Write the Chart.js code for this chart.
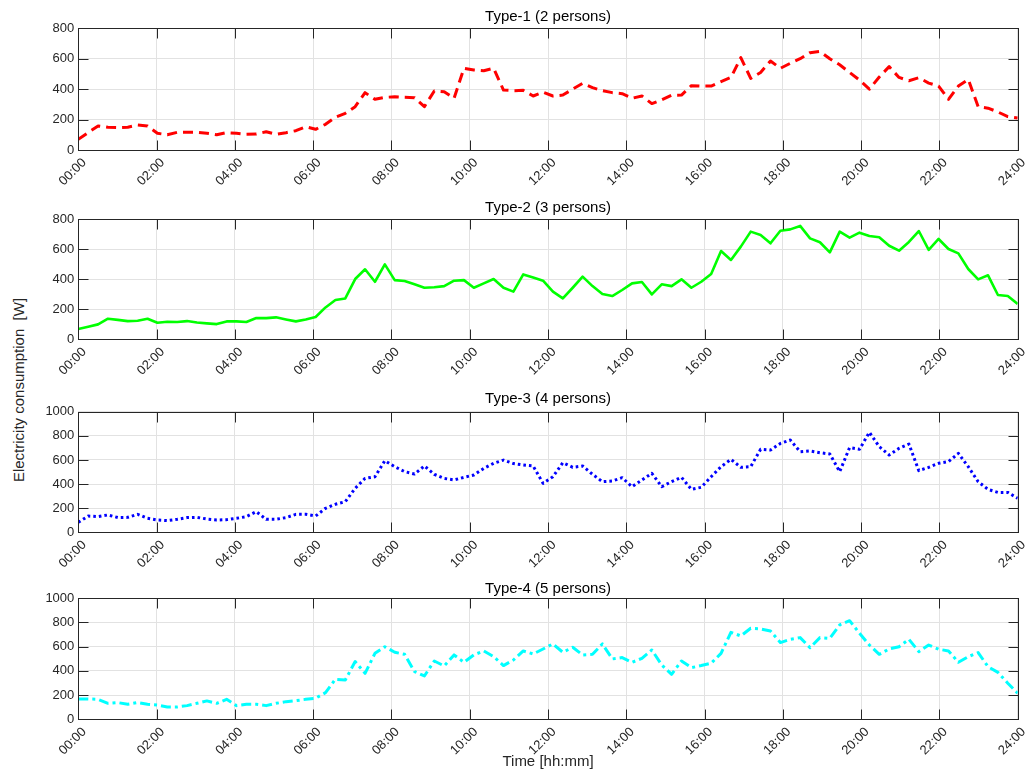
<!DOCTYPE html>
<html>
<head>
<meta charset="utf-8">
<title>Household electricity consumption by type</title>
<script src="https://cdn.jsdelivr.net/npm/chart.js@4.4.1/dist/chart.umd.min.js"></script>
<style>
  html, body { margin: 0; padding: 0; background: #fff; }
  #fig { position: relative; width: 1029px; height: 772px; overflow: hidden;
         font-family: "Liberation Sans", Arial, sans-serif; }
  #fig canvas { position: absolute; left: 0; }
  #ylabel { position: absolute; left: 18px; top: 390px; white-space: pre;
            transform: translate(-50%, -50%) rotate(-90deg);
            font-size: 15px; color: #262626; }
</style>
</head>
<body>
<div id="fig">
  <div id="ylabel">Electricity consumption  [W]</div>
</div>
<script>
// Tick labels of the shared time axis (every two hours)
const timeTicks = ['00:00', '02:00', '04:00', '06:00', '08:00', '10:00', '12:00',
                   '14:00', '16:00', '18:00', '20:00', '22:00', '24:00'];

// Panel titles
const panelTitles = ['Type-1 (2 persons)', 'Type-2 (3 persons)',
                     'Type-3 (4 persons)', 'Type-4 (5 persons)'];

// Upper limit of each panel's W axis
const axisMax = [800, 800, 1000, 1000];

// Average load profiles [W], 96 samples spread evenly over 00:00 - 24:00
const type1 = [70, 115, 158, 149, 147, 150, 164, 158, 110, 100,
               116, 116, 116, 110, 100, 114, 110, 103, 105, 120,
               103, 114, 127, 153, 136, 169, 215, 241, 285, 377,
               333, 346, 350, 346, 344, 285, 388, 383, 340, 537,
               526, 521, 537, 394, 390, 392, 355, 380, 355, 361,
               400, 438, 410, 390, 377, 370, 340, 355, 305, 330,
               360, 361, 423, 420, 420, 450, 477, 607, 471, 510,
               585, 537, 570, 600, 640, 648, 600, 560, 510, 460,
               400, 480, 548, 477, 455, 475, 440, 420, 333, 420,
               464, 285, 275, 250, 220, 210];

const type2 = [69, 84, 100, 138, 130, 122, 124, 138, 111, 118,
               116, 122, 113, 107, 102, 120, 120, 116, 142, 142,
               147, 133, 120, 133, 149, 213, 262, 273, 402, 467,
               384, 500, 395, 389, 367, 344, 347, 355, 391, 395,
               344, 373, 402, 344, 318, 433, 413, 391, 318, 273,
               344, 418, 355, 302, 289, 329, 373, 382, 300, 367,
               355, 400, 344, 384, 436, 589, 529, 618, 718, 696,
               640, 724, 733, 756, 673, 647, 580, 718, 678, 711,
               689, 680, 624, 591, 649, 722, 596, 669, 602, 573,
               469, 400, 427, 296, 289, 236];

const type3 = [83, 135, 130, 144, 122, 124, 149, 116, 102, 97,
               108, 122, 124, 110, 102, 105, 116, 130, 171, 108,
               108, 122, 149, 149, 135, 199, 232, 254, 365, 447,
               461, 594, 544, 503, 483, 550, 481, 447, 434, 456,
               475, 530, 572, 599, 570, 558, 550, 406, 461, 577,
               539, 550, 481, 420, 425, 453, 378, 434, 489, 378,
               420, 456, 356, 373, 461, 544, 605, 539, 544, 688,
               682, 737, 765, 668, 674, 660, 649, 503, 702, 688,
               829, 710, 641, 696, 732, 511, 539, 572, 586, 655,
               544, 420, 356, 331, 331, 282];

const type4 = [168, 168, 165, 132, 138, 124, 138, 124, 118, 102,
               102, 113, 132, 152, 132, 165, 113, 124, 124, 113,
               132, 146, 154, 165, 174, 220, 331, 325, 477, 380,
               545, 600, 554, 537, 394, 358, 482, 441, 532, 471,
               532, 565, 518, 444, 490, 565, 540, 581, 623, 554,
               595, 532, 537, 623, 499, 510, 471, 504, 573, 449,
               372, 482, 427, 444, 463, 545, 719, 689, 752, 747,
               730, 634, 661, 675, 592, 675, 669, 780, 815, 711,
               614, 537, 581, 600, 661, 559, 614, 579, 565, 471,
               518, 551, 435, 388, 298, 215];

const profiles = [type1, type2, type3, type4];

// Line styles of the four profiles
const styles = [
  { color: '#ff0000', width: 3,   dash: [10, 6] },
  { color: '#00ff00', width: 2.6, dash: [] },
  { color: '#0000ff', width: 3,   dash: [2.6, 3] },
  { color: '#00ffff', width: 3,   dash: [10, 4, 3, 4] }
];

// Page geometry of each axes box (top/bottom of plot area, title centre line)
const frames = [
  { plotTop: 28.3,  plotBottom: 150.0, titleY: 16.8 },
  { plotTop: 219.3, plotBottom: 339.4, titleY: 207.5 },
  { plotTop: 411.7, plotBottom: 532.3, titleY: 398.5 },
  { plotTop: 598.3, plotBottom: 719.3, titleY: 588.5 }
];

const FONT = '"Liberation Sans", Arial, sans-serif';
const INK = '#262626';
const GRID = '#e2e2e2';
const FIG_W = 1029, FIG_H = 772;
const PLOT_L = 78.3, PLOT_R = 1017.7;
const TICK_LEN = 10;

// Box around the plot area with inward tick marks on all four sides
const axesBox = {
  id: 'axesBox',
  afterDatasetsDraw(chart) {
    const { ctx, chartArea: a, scales: { x, y } } = chart;
    const px = v => Math.round(v) + 0.5;
    const L = px(a.left), R = px(a.right), T = px(a.top), B = px(a.bottom);
    ctx.save();
    ctx.strokeStyle = INK;
    ctx.lineWidth = 1;
    ctx.beginPath();
    x.ticks.forEach(t => {
      const xp = px(x.getPixelForValue(t.value));
      ctx.moveTo(xp, B); ctx.lineTo(xp, B - TICK_LEN);
      ctx.moveTo(xp, T); ctx.lineTo(xp, T + TICK_LEN);
    });
    y.ticks.forEach(t => {
      const yp = px(y.getPixelForValue(t.value));
      ctx.moveTo(L, yp); ctx.lineTo(L + TICK_LEN, yp);
      ctx.moveTo(R, yp); ctx.lineTo(R - TICK_LEN, yp);
    });
    ctx.stroke();
    ctx.strokeRect(L, T, R - L, B - T);
    ctx.restore();
  }
};

const fig = document.getElementById('fig');
const sampleStep = 24 / (type1.length - 1);

frames.forEach((f, k) => {
  const isLast = k === frames.length - 1;
  const canvasTop = Math.floor(f.plotTop) - 30;
  const canvasBottom = isLast ? FIG_H : Math.ceil(f.plotBottom) + 44;
  const cv = document.createElement('canvas');
  cv.width = FIG_W;
  cv.height = canvasBottom - canvasTop;
  cv.style.top = canvasTop + 'px';
  fig.appendChild(cv);

  const titleSize = 15, titleLH = titleSize * 1.2;
  const titlePadTop = (f.titleY - canvasTop) - titleLH / 2;
  const titlePadBottom = (f.plotTop - canvasTop) - titlePadTop - titleLH;
  const xAxisH = canvasBottom - f.plotBottom;
  const st = styles[k];

  new Chart(cv, {
    type: 'line',
    data: {
      datasets: [{
        data: profiles[k].map((v, i) => ({ x: i * sampleStep, y: v })),
        borderColor: st.color,
        borderWidth: st.width,
        borderDash: st.dash,
        borderJoinStyle: 'round',
        pointRadius: 0,
        tension: 0,
        fill: false
      }]
    },
    options: {
      responsive: false,
      animation: false,
      events: [],
      layout: { padding: { top: 0, left: 0, right: FIG_W - PLOT_R, bottom: 0 } },
      plugins: {
        legend: { display: false },
        tooltip: { enabled: false },
        title: {
          display: true,
          text: panelTitles[k],
          fullSize: false,
          color: '#000',
          font: { family: FONT, size: titleSize, weight: 'normal', lineHeight: 1.2 },
          padding: { top: titlePadTop, bottom: titlePadBottom }
        }
      },
      scales: {
        x: {
          type: 'linear',
          min: 0,
          max: 24,
          afterFit: s => {
            s.height = xAxisH;
            s.paddingLeft = 0;
            s.paddingRight = 0;
          },
          ticks: {
            stepSize: 2,
            autoSkip: false,
            minRotation: 45,
            maxRotation: 45,
            padding: 5,
            labelOffset: 6,
            color: INK,
            font: { family: FONT, size: 13 },
            callback: v => timeTicks[Math.round(v / 2)]
          },
          grid: { color: GRID, lineWidth: 1, drawTicks: false },
          border: { display: false },
          title: {
            display: isLast,
            text: 'Time [hh:mm]',
            color: INK,
            font: { family: FONT, size: 15, lineHeight: 1.2 },
            padding: { top: 0, bottom: 1 }
          }
        },
        y: {
          min: 0,
          max: axisMax[k],
          afterFit: s => { s.width = PLOT_L; },
          ticks: {
            stepSize: 200,
            padding: 4,
            color: INK,
            font: { family: FONT, size: 13 },
            callback: v => String(v)
          },
          grid: { color: GRID, lineWidth: 1, drawTicks: false },
          border: { display: false }
        }
      }
    },
    plugins: [axesBox]
  });
});
</script>
</body>
</html>
